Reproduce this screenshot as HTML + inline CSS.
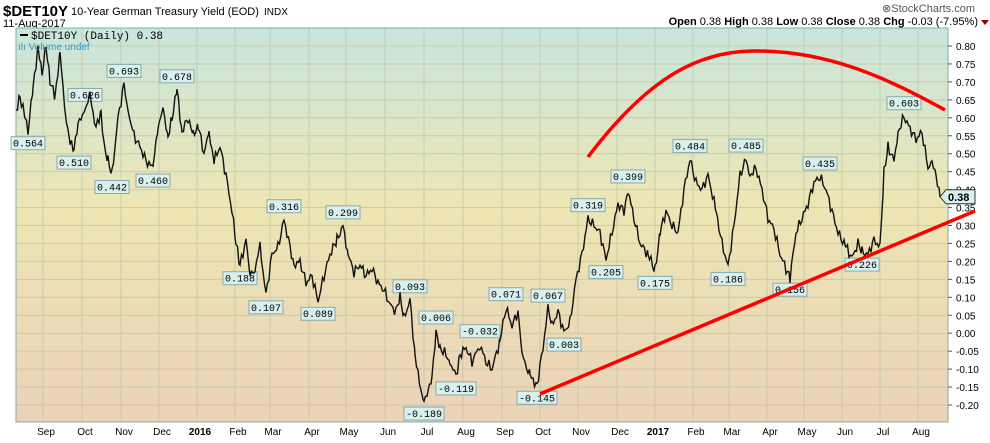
<!DOCTYPE html><html><head><meta charset="utf-8"><style>
body{margin:0;width:990px;height:438px;background:#fff;overflow:hidden;font-family:"Liberation Sans",sans-serif}
</style></head><body>
<svg id="s" width="990" height="438" xmlns="http://www.w3.org/2000/svg" font-family="Liberation Sans, sans-serif">
<defs><linearGradient id="g" x1="0" y1="0" x2="0" y2="1">
<stop offset="0" stop-color="#c9e5dc"/><stop offset="0.45" stop-color="#ede6b4"/><stop offset="1" stop-color="#ebd2b8"/></linearGradient></defs>
<text x="3" y="16" font-size="15" font-weight="bold">$DET10Y</text>
<text x="71" y="15" font-size="11">10-Year German Treasury Yield (EOD)</text>
<text x="264" y="15" font-size="10">INDX</text>
<text x="3" y="27" font-size="11">11-Aug-2017</text>
<text x="975" y="12" font-size="11" fill="#555" text-anchor="end">⊗StockCharts.com</text>
<text x="978" y="25" font-size="11" text-anchor="end"><tspan font-weight="bold">Open</tspan> 0.38 <tspan font-weight="bold">High</tspan> 0.38 <tspan font-weight="bold">Low</tspan> 0.38 <tspan font-weight="bold">Close</tspan> 0.38 <tspan font-weight="bold">Chg</tspan> -0.03 (-7.95%)</text>
<polygon points="981,20 989,20 985,25" fill="#900"/>
<rect x="16" y="28" width="932" height="394" fill="url(#g)" stroke="#8aa" stroke-width="1"/>
<g id="grid" stroke="#b9c5a8" stroke-width="1" opacity="0.7"></g>
<g id="lab"></g>
</svg>
<script>
var s=document.getElementById('s'),NS='http://www.w3.org/2000/svg';
function Y(v){return 46+(0.8-v)*359}
function el(t,a,p,txt){var e=document.createElementNS(NS,t);for(var k in a)e.setAttribute(k,a[k]);if(txt!=null)e.textContent=txt;(p||s).appendChild(e);return e}
var grid=document.getElementById('grid');
var mx=[43,82,121,159,197,235,270,309,346,385,424,463,502,540,578,617,655,693,729,767,804,842,880,918];
var mn=['Sep','Oct','Nov','Dec','2016','Feb','Mar','Apr','May','Jun','Jul','Aug','Sep','Oct','Nov','Dec','2017','Feb','Mar','Apr','May','Jun','Jul','Aug'];
mx.forEach(function(x,i){el('line',{x1:x,y1:28,x2:x,y2:422},grid);
 el('text',{x:x+3,y:435,'font-size':10,'text-anchor':'middle','font-weight':(i==4||i==16)?'bold':'normal'},s,mn[i]);});
for(var v=-0.2;v<=0.801;v+=0.05){var y=Y(v);el('line',{x1:16,y1:y,x2:948,y2:y},grid);
 el('line',{x1:948,y1:y,x2:952,y2:y,stroke:'#555'});
 el('text',{x:956,y:y+4,'font-size':10},s,v.toFixed(2).replace('-0.00','0.00'));}
var d=[[16,.62],[20,.66],[25,.6],[28,.564],[33,.68],[38,.8],[42,.72],[46,.8],[50,.7],[55,.66],[60,.78],[65,.62],[70,.53],[74,.51],[78,.58],[85,.626],[90,.66],[96,.57],[101,.62],[104,.52],[108,.48],[112,.442],[118,.6],[124,.693],[128,.62],[134,.55],[140,.52],[146,.48],[153,.46],[158,.58],[163,.62],[168,.55],[172,.6],[177,.678],[182,.56],[188,.6],[193,.55],[198,.58],[204,.5],[209,.56],[214,.48],[220,.52],[226,.44],[232,.34],[236,.25],[240,.188],[246,.26],[250,.16],[255,.18],[260,.24],[266,.107],[272,.22],[278,.24],[284,.316],[290,.24],[294,.19],[300,.2],[306,.14],[312,.16],[318,.089],[324,.16],[330,.22],[337,.26],[343,.299],[348,.22],[354,.17],[360,.19],[366,.16],[372,.18],[378,.14],[384,.12],[390,.08],[396,.06],[400,.1],[404,.04],[410,.093],[415,-.06],[420,-.15],[424,-.189],[428,-.16],[432,-.12],[436,.006],[440,-.04],[446,-.06],[450,-.08],[456,-.119],[460,-.06],[466,-.04],[472,-.08],[480,-.032],[486,-.08],[492,-.1],[500,-.02],[506,.071],[512,.02],[518,.06],[522,-.06],[530,-.12],[537,-.145],[543,-.04],[548,.067],[552,.02],[558,.06],[564,.003],[570,.03],[576,.15],[582,.22],[588,.319],[594,.3],[600,.28],[606,.205],[612,.28],[618,.36],[624,.34],[628,.399],[634,.32],[640,.25],[648,.22],[655,.175],[660,.28],[666,.34],[672,.3],[678,.28],[684,.4],[690,.484],[696,.42],[702,.4],[708,.44],[716,.34],[722,.25],[728,.186],[734,.3],[740,.44],[746,.485],[750,.44],[756,.46],[762,.4],[768,.32],[774,.29],[780,.22],[786,.18],[790,.156],[796,.28],[802,.32],[808,.36],[814,.42],[820,.435],[826,.4],[832,.34],[838,.28],[846,.24],[852,.21],[858,.25],[862,.226],[868,.22],[874,.26],[880,.24],[884,.45],[888,.52],[894,.48],[898,.56],[904,.603],[910,.57],[916,.54],[922,.56],[928,.46],[932,.48],[936,.44],[940,.38]];
var pts=[];for(var i=0;i<d.length-1;i++){var a=d[i],b=d[i+1];for(var x=a[0];x<b[0];x+=1.5){var t=(x-a[0])/(b[0]-a[0]);var v=a[1]+(b[1]-a[1])*t+(Math.sin(x*1.7)+Math.sin(x*3.1))*0.008;pts.push(x.toFixed(1)+','+Y(v).toFixed(1));}}
pts.push('940,'+Y(.38));
el('polyline',{points:pts.join(' '),fill:'none',stroke:'#111','stroke-width':1.4});
el('line',{x1:540,y1:394,x2:975,y2:211,stroke:'#f00','stroke-width':3.5});
el('path',{d:'M588,157 C650,75 700,52 752,51 C830,50 890,80 945,110',fill:'none',stroke:'#f00','stroke-width':3.5});
var L=[[28,.564,1],[74,.51,1],[85,.626,0],[112,.442,1],[124,.693,0],[153,.46,1],[177,.678,0],[240,.188,1],[266,.107,1],[284,.316,0],[318,.089,1],[343,.299,0],[410,.093,0],[424,-.189,1],[436,.006,0],[456,-.119,1],[480,-.032,0],[506,.071,0],[537,-.145,1],[548,.067,0],[564,.003,1],[588,.319,0],[606,.205,1],[628,.399,0],[655,.175,1],[690,.484,0],[728,.186,1],[746,.485,0],[790,.156,1],[820,.435,0],[862,.226,1],[904,.603,0]];
var lab=document.getElementById('lab');
L.forEach(function(l){var x=l[0],y=Y(l[1]),t=l[1].toFixed(3),w=t.length*6+4,by=l[2]?y+6:y-20;
 el('rect',{x:x-w/2,y:by,width:w,height:13,fill:'#d9f1ee',stroke:'#8aa'},lab);
 el('text',{x:x,y:by+10,'font-size':10,'font-family':'Liberation Mono, monospace','text-anchor':'middle'},lab,t);});
el('polygon',{points:'940,'+Y(.38)+' 946,'+(Y(.38)-7)+' 975,'+(Y(.38)-7)+' 975,'+(Y(.38)+7)+' 946,'+(Y(.38)+7),fill:'#d9f1ee',stroke:'#333'});
el('text',{x:948,y:Y(.38)+4,'font-size':11,'font-weight':'bold'},s,'0.38');
el('line',{x1:20,y1:35,x2:28,y2:35,stroke:'#000','stroke-width':2});
el('text',{x:31,y:39,'font-size':11,'font-family':'Liberation Mono, monospace'},s,'$DET10Y (Daily) 0.38');
el('text',{x:18,y:50,'font-size':10,fill:'#39c'},s,'ılı Volume undef');
</script>
</body></html>
